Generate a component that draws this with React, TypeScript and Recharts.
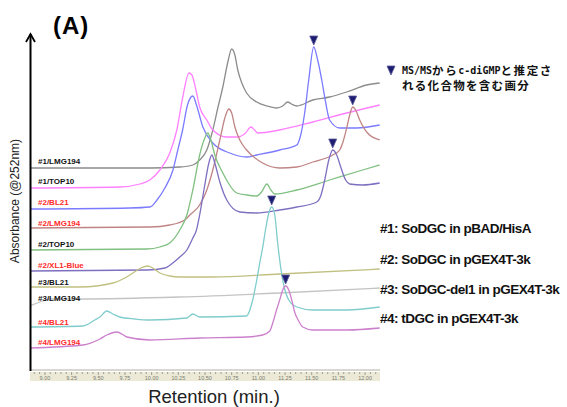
import React from 'react';
import { ComposedChart, Line, Scatter, XAxis, YAxis } from 'recharts';

// retention (min.) vs absorbance (arbitrary units, traces stacked with offsets)
const lmg194_1: [number, number][] = [
  [8.86, 202], [9.983, 202], [10.264, 203], [10.386, 205], [10.45, 210], [10.517, 220], [10.573, 240],
  [10.62, 262], [10.667, 283], [10.714, 308], [10.75, 321], [10.78, 315], [10.807, 300], [10.845, 287],
  [10.89, 277], [10.985, 268], [11.08, 264], [11.17, 262], [11.228, 264], [11.275, 268], [11.31, 266],
  [11.36, 264], [11.51, 270], [11.668, 273], [11.828, 278], [12.015, 285], [12.137, 287],
];
const top10_1: [number, number][] = [
  [8.86, 182], [9.7, 183], [9.89, 186], [9.983, 190], [10.077, 200], [10.17, 217], [10.236, 240],
  [10.29, 272], [10.35, 297], [10.377, 295], [10.415, 280], [10.45, 263], [10.517, 250], [10.573, 240],
  [10.704, 233], [10.807, 233], [10.88, 237], [10.93, 243], [10.965, 240], [10.994, 237], [11.2, 240],
  [11.51, 248], [11.828, 257], [12.137, 265],
];
const bl21_2: [number, number][] = [
  [8.86, 161], [9.796, 162], [9.983, 163], [10.05, 170], [10.124, 182], [10.2, 200], [10.245, 220],
  [10.29, 240], [10.336, 265], [10.386, 274], [10.42, 265], [10.48, 243], [10.573, 227], [10.732, 217],
  [10.89, 213], [10.985, 215], [11.2, 220], [11.36, 225], [11.397, 235], [11.434, 257], [11.472, 290],
  [11.519, 323], [11.556, 310], [11.594, 290], [11.63, 268], [11.668, 250], [11.762, 242], [11.92, 242],
  [12.137, 245],
];
const lmg194_2: [number, number][] = [
  [8.86, 142], [9.983, 143], [10.17, 145], [10.31, 150], [10.358, 155], [10.45, 165], [10.517, 180],
  [10.573, 200], [10.639, 230], [10.686, 252], [10.723, 261], [10.75, 257], [10.78, 243], [10.826, 230],
  [10.89, 220], [11.04, 207], [11.2, 202], [11.36, 203], [11.51, 208], [11.697, 215], [11.762, 220],
  [11.79, 227], [11.828, 242], [11.856, 255], [11.884, 263], [11.912, 260], [11.95, 250], [12.023, 237],
  [12.137, 230],
];
const top10_2: [number, number][] = [
  [8.86, 120], [9.955, 121], [10.077, 123], [10.17, 127], [10.264, 140], [10.33, 155], [10.386, 180],
  [10.45, 215], [10.498, 232], [10.526, 237], [10.555, 230], [10.592, 215], [10.667, 197], [10.798, 177],
  [10.89, 175], [10.985, 174], [11.03, 178], [11.08, 186], [11.117, 180], [11.154, 176], [11.36, 180],
  [11.668, 190], [11.977, 200], [12.137, 205],
];
const xl1blue_2: [number, number][] = [
  [8.86, 99], [9.955, 100], [10.124, 102], [10.198, 107], [10.264, 113], [10.33, 120], [10.386, 132],
  [10.42, 140], [10.45, 155], [10.498, 185], [10.536, 207], [10.564, 215], [10.592, 207], [10.639, 188],
  [10.704, 170], [10.826, 158], [10.985, 157], [11.2, 160], [11.36, 163], [11.547, 168], [11.584, 174],
  [11.622, 190], [11.66, 210], [11.697, 220], [11.734, 215], [11.772, 203], [11.818, 190], [11.856, 186],
  [11.977, 185], [12.137, 187],
];
const bl21_3: [number, number][] = [
  [8.86, 83], [9.33, 83], [9.637, 87], [9.749, 92], [9.824, 97], [9.899, 102], [9.964, 104],
  [10.01, 102], [10.077, 97], [10.17, 94], [10.264, 93], [10.573, 93], [11.2, 96], [12.137, 101],
];
const lmg194_3: [number, number][] = [
  [8.86, 64], [8.953, 68], [9.047, 71], [9.33, 71], [10.264, 73], [11.2, 77], [12.137, 82],
];
const bl21_4: [number, number][] = [
  [8.86, 43], [9.356, 44], [9.468, 50], [9.515, 53], [9.58, 59], [9.637, 56], [9.7, 53], [9.843, 51],
  [9.983, 50], [10.33, 52], [10.386, 56], [10.45, 53], [10.89, 54], [10.92, 60], [10.947, 70],
  [10.985, 90], [11.013, 107], [11.04, 122], [11.07, 142], [11.098, 157], [11.125, 163], [11.154, 155],
  [11.18, 128], [11.21, 102], [11.238, 85], [11.285, 70], [11.36, 63], [11.51, 60], [11.828, 60],
  [12.137, 63],
];
const lmg194_4: [number, number][] = [
  [8.86, 22], [9.356, 25], [9.515, 31], [9.58, 35], [9.674, 38], [9.72, 36], [9.768, 33], [9.983, 30],
  [10.45, 32], [10.89, 33], [11.04, 35], [11.107, 39], [11.135, 47], [11.17, 60], [11.2, 70],
  [11.228, 80], [11.256, 84], [11.285, 80], [11.313, 70], [11.34, 58], [11.378, 49], [11.416, 43],
  [11.51, 40], [11.828, 40], [12.137, 42],
];

// fractions flagged by MS/MS (peak positions)
const markerTimes = [11.519, 11.884, 11.697, 11.125, 11.256];
const markerValues = [323, 263, 220, 163, 84];

const majorTicks = [9.0, 9.25, 9.5, 9.75, 10.0, 10.25, 10.5, 10.75, 11.0, 11.25, 11.5, 11.75, 12.0];
const minorTicks = Array.from({ length: 65 }, (_, i) => (890 + 5 * i) / 100);

const traceLabels = ['#1/LMG194', '#1/TOP10', '#2/BL21', '#2/LMG194', '#2/TOP10', '#2/XL1-Blue', '#3/BL21', '#3/LMG194', '#4/BL21', '#4/LMG194'];
const labelRed = [false, false, true, true, false, true, false, false, true, true];
const labelY = [161, 181, 202, 223, 244, 265, 282, 298, 322, 342];

const legendTexts = ['#1: SoDGC in pBAD/HisA', '#2: SoDGC in pGEX4T-3k', '#3: SoDGC-del1 in pGEX4T-3k', '#4: tDGC in pGEX4T-3k'];
const legendY = [228, 259, 289, 318];

const traces = [
  { name: '#1/LMG194', pts: lmg194_1, color: '#8c8c8c' },
  { name: '#1/TOP10', pts: top10_1, color: '#ff80ff' },
  { name: '#2/BL21', pts: bl21_2, color: '#7b7bff' },
  { name: '#2/LMG194', pts: lmg194_2, color: '#c08484' },
  { name: '#2/TOP10', pts: top10_2, color: '#80c080' },
  { name: '#2/XL1-Blue', pts: xl1blue_2, color: '#7f6fc0' },
  { name: '#3/BL21', pts: bl21_3, color: '#c0c080' },
  { name: '#3/LMG194', pts: lmg194_3, color: '#c4c4c4' },
  { name: '#4/BL21', pts: bl21_4, color: '#80cccc' },
  { name: '#4/LMG194', pts: lmg194_4, color: '#cc80cc' },
];

const markers = markerTimes.map((t, i) => ({ t, v: markerValues[i] }));

const Tri = (props: any) => {
  const { cx, cy } = props;
  const c = cy - 6;
  return (
    <polygon
      points={`${cx - 4},${c - 5} ${cx + 4},${c - 5} ${cx},${c + 4}`}
      fill="#1c1c70"
      stroke="#5a5a9a"
      strokeWidth={0.8}
    />
  );
};

const AxisTick = (props: any) => {
  const { x, y, payload } = props;
  const v = payload.value;
  const major = Math.abs(v * 4 - Math.round(v * 4)) < 1e-6;
  return (
    <g>
      <line x1={x} x2={x} y1={y + 2} y2={y + (major ? 5 : 4)} stroke="#8a8a80" strokeWidth={0.8} />
      {major && (
        <text x={x} y={y + 8} textAnchor="middle" dominantBaseline="central" fontSize={5.5} fill="#7a7a70" fontFamily="Liberation Sans, Arial">
          {v.toFixed(2)}
        </text>
      )}
    </g>
  );
};

const font = 'Liberation Sans, Arial, sans-serif';
const cjk = '"Noto Sans CJK JP", sans-serif';

export default function App() {
  return (
    <div style={{ position: 'absolute', left: 0, top: 0, width: 567, height: 407, background: '#fff', overflow: 'hidden' }}>
      <div style={{ position: 'absolute', left: 30, top: 372, width: 350, height: 9, background: '#ecead6' }} />
      <div style={{ position: 'absolute', left: 0, top: 0 }}>
        <ComposedChart width={567} height={407} margin={{ top: 35, left: 30, right: 187, bottom: 23 }}>
          <XAxis
            dataKey="t"
            type="number"
            domain={[8.86, 12.14]}
            allowDataOverflow
            ticks={minorTicks}
            interval={0}
            tick={<AxisTick />}
            tickLine={false}
            tickSize={0}
            tickMargin={0}
            axisLine={{ stroke: '#b0b0a0' }}
            height={14}
          />
          <YAxis type="number" domain={[0, 335]} hide allowDataOverflow />
          {traces.map((tr) => (
            <Line
              key={tr.name}
              data={tr.pts.map(([t, v]) => ({ t, v }))}
              dataKey="v"
              type="monotone"
              stroke={tr.color}
              strokeWidth={1.3}
              dot={false}
              isAnimationActive={false}
            />
          ))}
          <Scatter data={markers} dataKey="v" shape={<Tri />} isAnimationActive={false} />
        </ComposedChart>
      </div>
      <svg width={567} height={407} style={{ position: 'absolute', left: 0, top: 0, pointerEvents: 'none' }}>
        <text x={53} y={34} fontFamily={font} fontWeight="bold" fontSize={24} letterSpacing={1} fill="#000">(A)</text>
        <line x1={30.5} y1={34} x2={30.5} y2={371} stroke="#000" strokeWidth={2} />
        <polyline points="26,42 30.5,34 35,42" fill="none" stroke="#000" strokeWidth={1.8} />
        <text x={15} y={201} transform="rotate(-90 15 201)" textAnchor="middle" dominantBaseline="central" fontFamily={font} fontSize={12} fill="#222">
          Absorbance (@252nm)
        </text>
        <text x={214} y={396} textAnchor="middle" dominantBaseline="central" fontFamily={font} fontSize={18.5} fill="#222">
          Retention (min.)
        </text>
        {traceLabels.map((s, i) => (
          <text key={s} x={38} y={labelY[i]} dominantBaseline="central" fontFamily={font} fontWeight="bold" fontSize={8} fill={labelRed[i] ? '#ff2a2a' : '#111'}>
            {s}
          </text>
        ))}
        {legendTexts.map((s, i) => (
          <text key={s} x={380} y={legendY[i]} dominantBaseline="central" fontFamily={font} fontWeight="bold" fontSize={13.5} letterSpacing={-0.5} fill="#111">
            {s}
          </text>
        ))}
        <polygon points="387,66 395,66 391,75" fill="#1c1c70" stroke="#5a5a9a" strokeWidth={0.8} />
        <text x={402} y={70} dominantBaseline="central" fontWeight="bold" fill="#111">
          <tspan fontFamily="DejaVu Sans Mono" fontSize={10}>MS/MS</tspan>
          <tspan fontFamily={cjk} fontSize={11.5} letterSpacing={1.6}>から</tspan>
          <tspan fontFamily="DejaVu Sans Mono" fontSize={10}>c-diGMP</tspan>
          <tspan fontFamily={cjk} fontSize={11.5} letterSpacing={1.6}>と推定さ</tspan>
        </text>
        <text x={402} y={85} dominantBaseline="central" fontWeight="bold" fontFamily={cjk} fontSize={11.5} letterSpacing={1.3} fill="#111">
          れる化合物を含む画分
        </text>
      </svg>
    </div>
  );
}
